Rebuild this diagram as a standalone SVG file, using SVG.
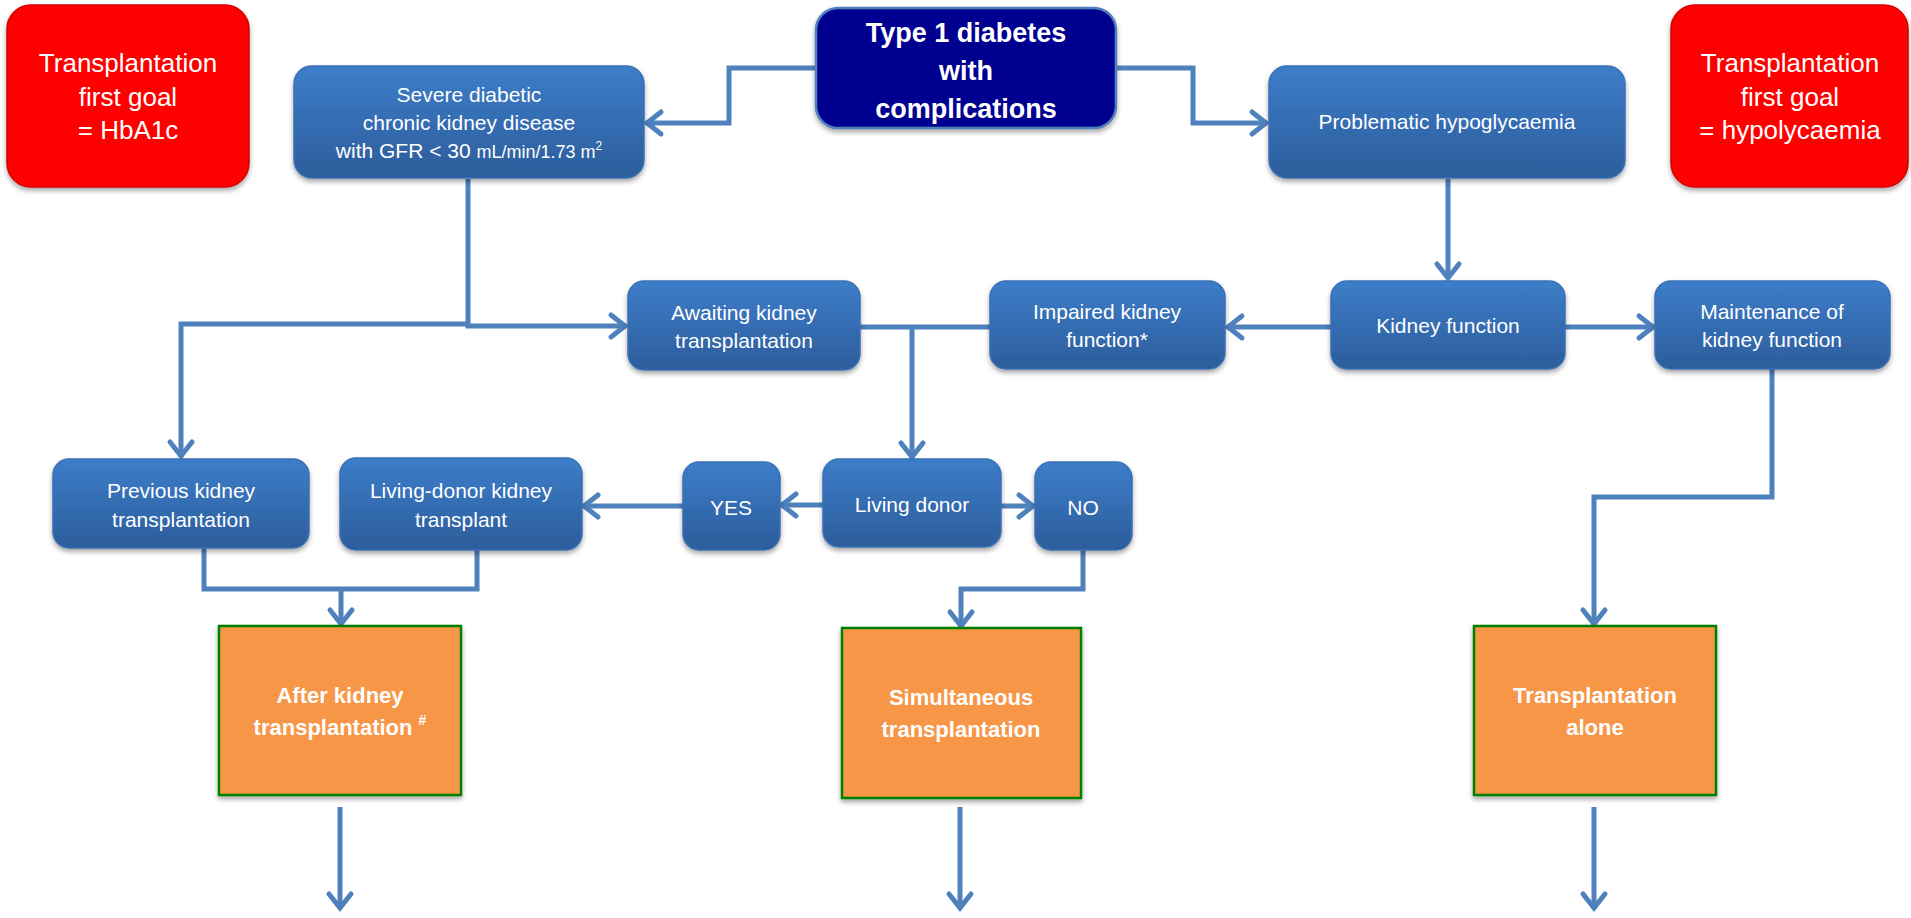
<svg xmlns="http://www.w3.org/2000/svg" width="1911" height="918" viewBox="0 0 1911 918">
<defs>
<linearGradient id="blueGrad" x1="0" y1="0" x2="0" y2="1">
<stop offset="0" stop-color="#3d7dca"/>
<stop offset="1" stop-color="#2c5d9b"/>
</linearGradient>
<filter id="shadow" x="-10%" y="-10%" width="120%" height="130%">
<feDropShadow dx="0" dy="3" stdDeviation="2.5" flood-color="#000" flood-opacity="0.35"/>
</filter>
<marker id="arrow" markerUnits="userSpaceOnUse" markerWidth="40" markerHeight="40" viewBox="-20 -20 40 40" refX="0" refY="0" orient="auto">
<path d="M-15,-11 L-1,0 L-15,11" fill="none" stroke="#4f81bd" stroke-width="5" stroke-linecap="round" stroke-linejoin="miter"/>
</marker>
<style>
.blue{fill:url(#blueGrad);stroke:#3a70b4;stroke-width:1.5;filter:url(#shadow)}
.red{fill:#ff0000;stroke:#d40000;stroke-width:1.5;filter:url(#shadow)}
.navy{fill:#000090;stroke:#4f81bd;stroke-width:2.5;filter:url(#shadow)}
.orange{fill:#f79646;stroke:#008000;stroke-width:2.5;filter:url(#shadow)}
.t{font-family:"Liberation Sans",Arial,sans-serif;fill:#fff;text-anchor:middle;font-size:21px}
.tr{font-family:"Liberation Sans",Arial,sans-serif;fill:#fff;text-anchor:middle;font-size:26px}
.tb{font-family:"Liberation Sans",Arial,sans-serif;fill:#fff;text-anchor:middle;font-size:27px;font-weight:bold}
.to{font-family:"Liberation Sans",Arial,sans-serif;fill:#fff;text-anchor:middle;font-size:22px;font-weight:bold}
.c{fill:none;stroke:#4f81bd;stroke-width:5;stroke-linejoin:miter}
.a{marker-end:url(#arrow)}
</style>
</defs>
<rect width="1911" height="918" fill="#fff"/>

<g id="connectors">
<path class="c a" d="M816,68 H729 V123 H646"/>
<path class="c a" d="M1116,68 H1193 V123 H1267"/>
<path class="c a" d="M468,179 V326 H626"/>
<path class="c a" d="M468,324 H181 V457"/>
<path class="c a" d="M1448,179 V279"/>
<path class="c a" d="M1331,327 H1227"/>
<path class="c a" d="M1565,327 H1654"/>
<path class="c" d="M860,327 H990"/>
<path class="c a" d="M912,327 V458"/>
<path class="c a" d="M823,505 H781"/>
<path class="c a" d="M1001,506 H1034"/>
<path class="c a" d="M683,506 H583"/>
<path class="c" d="M204,548 V589 H477 V550"/>
<path class="c a" d="M341,589 V625"/>
<path class="c a" d="M1083,550 V589 H961 V627"/>
<path class="c a" d="M1772,369 V497 H1594 V625"/>
<path class="c a" d="M340,807 V909"/>
<path class="c a" d="M960,807 V909"/>
<path class="c a" d="M1594,807 V909"/>
</g>

<g id="goal-hba1c">
<rect class="red" x="7" y="5" width="242" height="182" rx="24"/>
<text class="tr" x="128" y="72">Transplantation</text>
<text class="tr" x="128" y="106">first goal</text>
<text class="tr" x="128" y="139">= HbA1c</text>
</g>

<g id="goal-hypo">
<rect class="red" x="1671" y="5" width="237" height="182" rx="24"/>
<text class="tr" x="1790" y="72">Transplantation</text>
<text class="tr" x="1790" y="106">first goal</text>
<text class="tr" x="1790" y="139">= hypolycaemia</text>
</g>

<g id="type1">
<rect class="navy" x="816" y="8" width="300" height="120" rx="22"/>
<text class="tb" x="966" y="42">Type 1 diabetes</text>
<text class="tb" x="966" y="80">with</text>
<text class="tb" x="966" y="118">complications</text>
</g>

<g id="severe">
<rect class="blue" x="294" y="66" width="350" height="112" rx="18"/>
<text class="t" x="469" y="102">Severe diabetic</text>
<text class="t" x="469" y="130">chronic kidney disease</text>
<text class="t" x="469" y="158">with GFR &lt; 30 <tspan font-size="18">mL/min/1.73 m</tspan><tspan font-size="12" dy="-8">2</tspan></text>
</g>

<g id="problematic">
<rect class="blue" x="1269" y="66" width="356" height="112" rx="18"/>
<text class="t" x="1447" y="129">Problematic hypoglycaemia</text>
</g>

<g id="awaiting">
<rect class="blue" x="628" y="281" width="232" height="89" rx="16"/>
<text class="t" x="744" y="320">Awaiting kidney</text>
<text class="t" x="744" y="348">transplantation</text>
</g>

<g id="impaired">
<rect class="blue" x="990" y="281" width="235" height="88" rx="16"/>
<text class="t" x="1107" y="319">Impaired kidney</text>
<text class="t" x="1107" y="347">function*</text>
</g>

<g id="kidney-function">
<rect class="blue" x="1331" y="281" width="234" height="88" rx="16"/>
<text class="t" x="1448" y="333">Kidney function</text>
</g>

<g id="maintenance">
<rect class="blue" x="1655" y="281" width="235" height="88" rx="16"/>
<text class="t" x="1772" y="319">Maintenance of</text>
<text class="t" x="1772" y="347">kidney function</text>
</g>

<g id="previous">
<rect class="blue" x="53" y="459" width="256" height="89" rx="16"/>
<text class="t" x="181" y="498">Previous kidney</text>
<text class="t" x="181" y="527">transplantation</text>
</g>

<g id="living-donor-transplant">
<rect class="blue" x="340" y="458" width="242" height="92" rx="16"/>
<text class="t" x="461" y="498">Living-donor kidney</text>
<text class="t" x="461" y="527">transplant</text>
</g>

<g id="yes">
<rect class="blue" x="683" y="462" width="97" height="88" rx="16"/>
<text class="t" x="731" y="515">YES</text>
</g>

<g id="living-donor">
<rect class="blue" x="823" y="459" width="178" height="88" rx="16"/>
<text class="t" x="912" y="512">Living donor</text>
</g>

<g id="no">
<rect class="blue" x="1035" y="462" width="97" height="88" rx="16"/>
<text class="t" x="1083" y="515">NO</text>
</g>

<g id="after">
<rect class="orange" x="219" y="626" width="242" height="169"/>
<text class="to" x="340" y="703">After kidney</text>
<text class="to" x="340" y="735">transplantation <tspan font-size="14" dy="-10">#</tspan></text>
</g>

<g id="simultaneous">
<rect class="orange" x="842" y="628" width="239" height="170"/>
<text class="to" x="961" y="705">Simultaneous</text>
<text class="to" x="961" y="737">transplantation</text>
</g>

<g id="alone">
<rect class="orange" x="1474" y="626" width="242" height="169"/>
<text class="to" x="1595" y="703">Transplantation</text>
<text class="to" x="1595" y="735">alone</text>
</g>
</svg>
